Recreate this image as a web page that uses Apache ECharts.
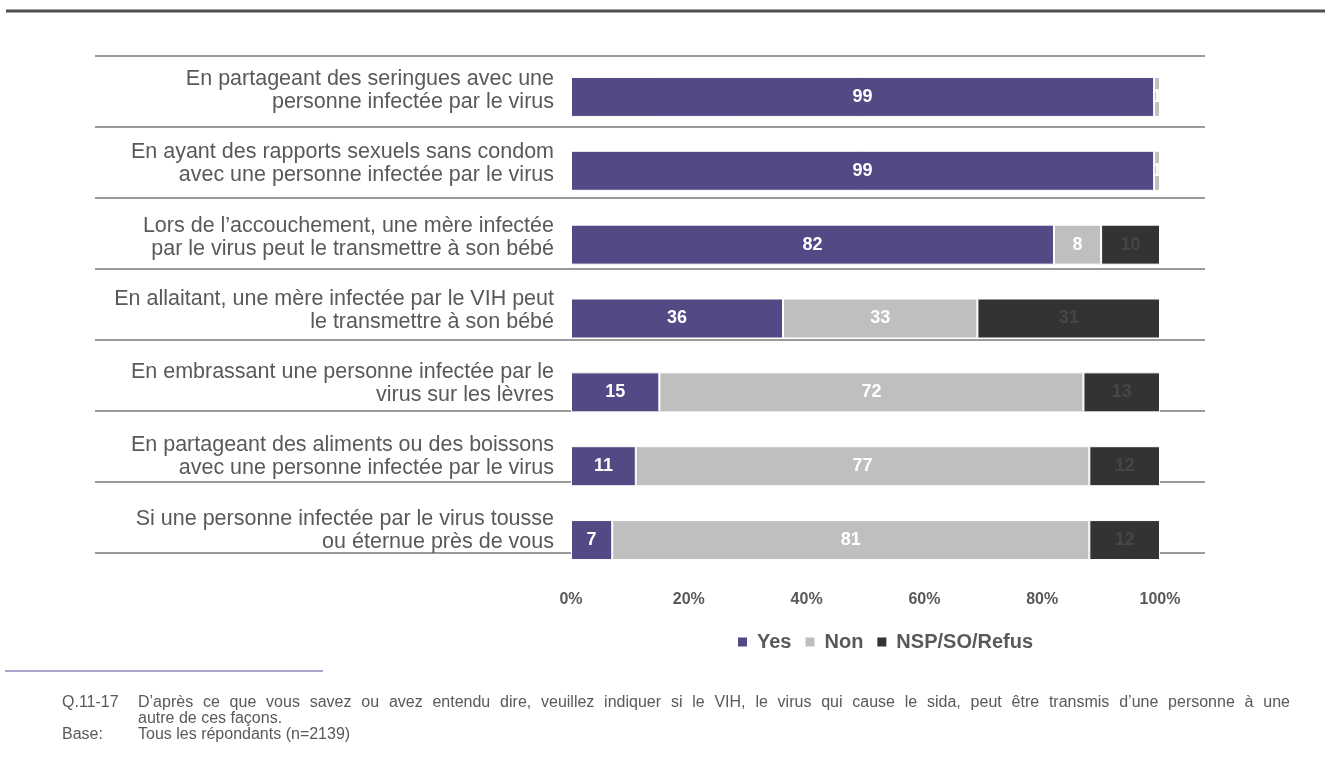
<!DOCTYPE html>
<html>
<head>
<meta charset="utf-8">
<script src="https://cdn.jsdelivr.net/npm/echarts@6/dist/echarts.min.js"></script>
<style>
html,body{margin:0;padding:0;background:#fff;}
#chart{width:1334px;height:758px;}
</style>
</head>
<body>
<div id="chart"></div>
<script>
const categories = [
  "En partageant des seringues avec une\npersonne infectée par le virus",
  "En ayant des rapports sexuels sans condom\navec une personne infectée par le virus",
  "Lors de l\u2019accouchement, une mère infectée\npar le virus peut le transmettre à son bébé",
  "En allaitant, une mère infectée par le VIH peut\nle transmettre à son bébé",
  "En embrassant une personne infectée par le\nvirus sur les lèvres",
  "En partageant des aliments ou des boissons\navec une personne infectée par le virus",
  "Si une personne infectée par le virus tousse\nou éternue près de vous"
];
const seriesNames = ["Yes", "Non", "NSP/SO/Refus"];
const yesValues = [99, 99, 82, 36, 15, 11, 7];
const nonValues = [1, 1, 8, 33, 72, 77, 81];
const nspValues = [0, 0, 10, 31, 13, 12, 12];
const xTicks = [0, 20, 40, 60, 80, 100];
const footQuestionTag = "Q.11-17";
const footQuestionLine1 = "D\u2019après ce que vous savez ou avez entendu dire, veuillez indiquer si le VIH, le virus qui cause le sida, peut être transmis d\u2019une personne à une";
const footQuestionLine2 = "autre de ces façons.";
const footBaseTag = "Base:";
const footBase = "Tous les répondants (n=2139)";

const colors = ["#524a84", "#bfbfbf", "#333333"];
const labelColors = ["#ffffff", "#ffffff", "#464646"];
const FONT = "'Liberation Sans', Arial, sans-serif";
const FOOT_FONT = "16px " + FONT;

const chart = echarts.init(document.getElementById('chart'), null, {renderer: 'canvas'});

const valuesList = [yesValues, nonValues, nspValues];
const series = seriesNames.map((name, i) => ({
  name: name,
  type: 'bar',
  stack: 'total',
  xAxisIndex: 0,
  yAxisIndex: 0,
  barWidth: 40,
  data: valuesList[i],
  itemStyle: {color: colors[i], borderColor: '#ffffff', borderWidth: 1},
  label: {
    show: true,
    position: 'inside',
    fontFamily: FONT,
    fontWeight: 'bold',
    fontSize: 18,
    color: labelColors[i],
    formatter: p => p.value === 0 ? '' : String(p.value)
  }
}));

// footnote: first line justified across the text box (as in the source slide)
const measureCtx = document.createElement('canvas').getContext('2d');
measureCtx.font = FOOT_FONT;
const words = footQuestionLine1.split(' ');
const wordWidths = words.map(w => measureCtx.measureText(w).width);
const wordsTotal = wordWidths.reduce((a, b) => a + b, 0);
const boxLeft = 138, boxWidth = 1152;
const wordGap = (boxWidth - wordsTotal) / (words.length - 1);
const footGraphics = [];
let cx = boxLeft;
words.forEach((w, i) => {
  footGraphics.push({type: 'text', left: Math.round(cx * 10) / 10, top: 695, style: {text: w, font: FOOT_FONT, fill: '#595959'}});
  cx += wordWidths[i] + wordGap;
});

chart.setOption({
  animation: false,
  backgroundColor: '#ffffff',
  textStyle: {fontFamily: FONT},
  grid: [
    {left: 571, width: 589, top: 60, height: 517},
    {left: 95, width: 1110, top: 56, height: 497},
    {left: 95, width: 1110, top: 54, height: 513}
  ],
  xAxis: [
    {
      gridIndex: 0, type: 'value', min: xTicks[0], max: xTicks[xTicks.length - 1], interval: 20,
      axisLine: {show: false}, axisTick: {show: false}, splitLine: {show: false},
      axisLabel: {formatter: '{value}%', fontFamily: FONT, fontWeight: 'bold', fontSize: 16, color: '#595959', margin: 15}
    },
    {gridIndex: 1, type: 'value', min: 0, max: 1, show: false},
    {gridIndex: 2, type: 'value', min: 0, max: 1, show: false}
  ],
  yAxis: [
    {gridIndex: 0, type: 'category', inverse: true, data: categories, show: false},
    {
      gridIndex: 1, type: 'category', inverse: true, data: categories,
      axisLine: {show: false}, axisTick: {show: false}, axisLabel: {show: false},
      splitLine: {show: true, lineStyle: {color: '#9a9a9a', width: 2}}
    },
    {
      gridIndex: 2, type: 'category', inverse: true, data: categories,
      offset: -467,
      axisLine: {show: false}, axisTick: {show: false}, splitLine: {show: false},
      axisLabel: {fontFamily: FONT, fontSize: 21.5, color: '#595959', lineHeight: 23, margin: 8, align: 'right'}
    }
  ],
  legend: {
    data: seriesNames,
    left: 738, top: 632, padding: 0,
    icon: 'rect', itemWidth: 9, itemHeight: 9, itemGap: 14,
    itemStyle: {borderWidth: 0},
    textStyle: {fontFamily: FONT, fontWeight: 'bold', fontSize: 20, color: '#595959', padding: [0, 0, 0, 5]}
  },
  series: series,
  graphic: [
    {type: 'line', shape: {x1: 6, y1: 11, x2: 1325, y2: 11}, style: {stroke: '#4d4d4d', lineWidth: 3}},
    {type: 'line', shape: {x1: 5, y1: 671, x2: 323, y2: 671}, style: {stroke: '#aaa4cc', lineWidth: 2}},
    {type: 'text', left: 62, top: 695, style: {text: footQuestionTag, font: FOOT_FONT, fill: '#595959'}},
    {type: 'text', left: boxLeft, top: 711, style: {text: footQuestionLine2, font: FOOT_FONT, fill: '#595959'}},
    {type: 'text', left: 62, top: 727, style: {text: footBaseTag, font: FOOT_FONT, fill: '#595959'}},
    {type: 'text', left: boxLeft, top: 727, style: {text: footBase, font: FOOT_FONT, fill: '#595959'}}
  ].concat(footGraphics)
});
</script>
</body>
</html>
